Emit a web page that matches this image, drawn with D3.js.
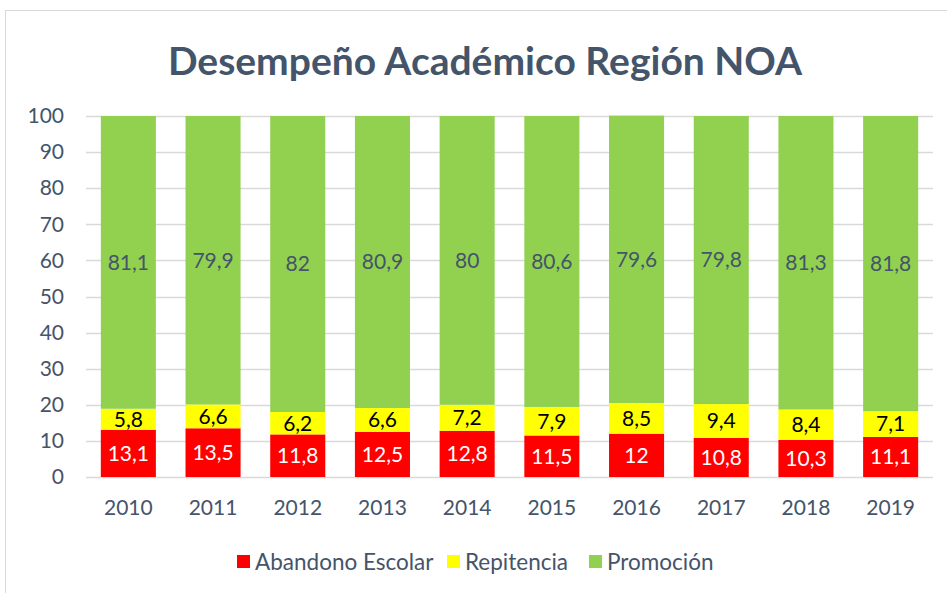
<html>
<head>
<meta charset="utf-8">
<script src="https://d3js.org/d3.v7.min.js"></script>
<style>
  body { margin: 0; background: #fff; }
  text { font-family: Lato, "Open Sans", sans-serif; }
</style>
</head>
<body>
<svg id="chart" width="947" height="593"></svg>
<script>
    // data
    let years = ["2010","2011","2012","2013","2014","2015","2016","2017","2018","2019"];
    let abandono = [13.1, 13.5, 11.8, 12.5, 12.8, 11.5, 12, 10.8, 10.3, 11.1];
    let repitencia = [5.8, 6.6, 6.2, 6.6, 7.2, 7.9, 8.5, 9.4, 8.4, 7.1];
    let promocion = [81.1, 79.9, 82, 80.9, 80, 80.6, 79.6, 79.8, 81.3, 81.8];
    let seriesNames = ["Abandono Escolar", "Repitencia", "Promoción"];
    let yTicks = [0, 10, 20, 30, 40, 50, 60, 70, 80, 90, 100];

    let colors = ["#FF0000", "#FFFF00", "#92D050"];
    let labelColors = ["#FFFFFF", "#000000", "#44546A"];

    let svg = d3.select("svg#chart");
    let margin = {"top":116, "right":14, "bottom":116, "left":86};
    let width = svg.attr("width") - margin.left - margin.right;
    let height = svg.attr("height") - margin.top - margin.bottom;

    //chart frame
    svg.append("rect")
        .attr("x", 5.5).attr("y", 10.5)
        .attr("width", 960).attr("height", 600)
        .style("fill", "none")
        .style("stroke", "#D9D9D9");

    //title
    svg.append("text")
        .attr("x", 485).attr("y", 75)
        .attr("text-anchor", "middle")
        .style("font-size", "39px")
        .style("font-weight", "bold")
        .style("fill", "#44546A")
        .text("Desempeño Académico Región NOA");

    let rows = years.map(function(y, i){
        return {"year": y, "s0": abandono[i], "s1": repitencia[i], "s2": promocion[i]};
    });
    let stack = d3.stack().keys(["s0","s1","s2"])(rows);

    let xScale = d3.scaleBand().domain(years).range([0, width]).paddingInner(0.35).paddingOuter(0.175);
    let yScale = d3.scaleLinear().domain([0, 100]).range([height, 0]);

    let g = svg.append("g").attr("transform", "translate("+margin.left+","+margin.top+")");

    //gridlines
    yTicks.forEach(function(t){
        g.append("line")
            .attr("x1", 0).attr("x2", width)
            .attr("y1", Math.round(yScale(t))+0.5).attr("y2", Math.round(yScale(t))+0.5)
            .style("stroke", "#D9D9D9")
            .style("stroke-width", 1.3);
    });

    //y axis
    let yAxis = d3.axisLeft(yScale).tickValues(yTicks).tickSize(0).tickPadding(22);
    let yG = g.append("g").call(yAxis);
    yG.select(".domain").remove();
    yG.selectAll("text").style("font-size", "21px").style("fill", "#44546A");

    //x axis
    let xAxis = d3.axisBottom(xScale).tickSize(0).tickPadding(23);
    let xG = g.append("g").attr("transform", "translate(0,"+height+")").call(xAxis);
    xG.select(".domain").remove();
    xG.selectAll("text").style("font-size", "21px").style("fill", "#44546A");

    //bars
    stack.forEach(function(layer, k){
        layer.forEach(function(d, i){
            g.append("rect")
                .attr("x", xScale(years[i]))
                .attr("y", yScale(d[1]))
                .attr("width", xScale.bandwidth())
                .attr("height", yScale(d[0]) - yScale(d[1]))
                .style("fill", colors[k]);
        });
    });

    //labels
    stack.forEach(function(layer, k){
        layer.forEach(function(d, i){
            let v = d.data["s"+k];
            g.append("text")
                .attr("x", xScale(years[i]) + xScale.bandwidth()/2)
                .attr("y", yScale((d[0]+d[1])/2))
                .attr("dy", "0.35em")
                .attr("text-anchor", "middle")
                .style("font-size", "21px")
                .style("fill", labelColors[k])
                .text(String(v).replace(".", ","));
        });
    });

    //legend
    let legendX = [237, 447, 589];
    seriesNames.forEach(function(name, k){
        svg.append("rect")
            .attr("x", legendX[k]).attr("y", 555)
            .attr("width", 13).attr("height", 13)
            .style("fill", colors[k]);
        svg.append("text")
            .attr("x", legendX[k] + 18).attr("y", 562)
            .attr("dy", "0.35em")
            .style("font-size", "22.5px")
            .style("fill", "#44546A")
            .text(name);
    });
</script>
</body>
</html>
